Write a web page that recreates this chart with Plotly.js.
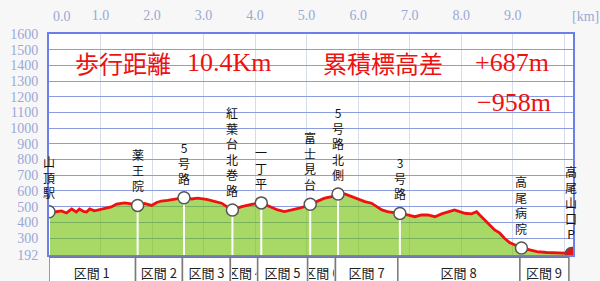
<!DOCTYPE html>
<html><head><meta charset="utf-8">
<script src="https://cdn.plot.ly/plotly-3.0.1.min.js"></script>
<style>html,body{margin:0;padding:0;background:#f7f7f7;}#chart{width:600px;height:281px;}</style>
</head><body><div id="chart"></div>
<script>
// Elevation profile (distance km, elevation m)
const profileKm = [0, 0.11, 0.24, 0.34, 0.44, 0.53, 0.59, 0.67, 0.73, 0.79, 0.88, 1.02, 1.12, 1.21, 1.31, 1.47, 1.60, 1.72,
  1.85, 1.99, 2.09, 2.18, 2.30, 2.48, 2.62, 2.77, 2.88, 3.06, 3.21, 3.35, 3.45, 3.56, 3.74, 3.93, 4.12,
  4.28, 4.44, 4.57, 4.73, 4.86, 5.00, 5.07, 5.21, 5.35, 5.49, 5.61, 5.74, 5.87, 5.99, 6.13, 6.26, 6.36, 6.46, 6.57, 6.81,
  6.96, 7.10, 7.23, 7.35, 7.49, 7.62, 7.78, 7.87, 7.97, 8.07, 8.20, 8.30, 8.36, 8.46, 8.55, 8.65, 8.75, 8.84, 8.94, 9.17,
  9.33, 9.47, 9.66, 9.91, 10.14];
const profileElev = [468, 466, 473, 460, 485, 466, 485, 470, 466, 485, 473, 485, 492, 498, 517, 524, 517, 508,
  520, 508, 527, 536, 540, 552, 557, 549, 554, 547, 536, 522, 500, 479, 500, 515, 524,
  500, 479, 468, 479, 490, 505, 515, 532, 554, 564, 581, 581, 564, 547, 532, 522, 500, 479, 468, 457,
  447, 436, 447, 447, 436, 454, 468, 479, 468, 458, 454, 468, 447, 415, 383, 352, 331, 299, 271, 237,
  224, 213, 208, 203, 202];

// Waypoints
const wpNames = ["山頂駅", "薬王院", "5号路", "紅葉台北巻路", "一丁平", "富士見台", "5号路北側", "3号路", "高尾病院", "高尾山口P"];
const wpKm = [0, 1.72, 2.62, 3.56, 4.12, 5.07, 5.61, 6.81, 9.17, 10.14];
const wpElev = [468, 508, 557, 479, 524, 515, 581, 457, 237, 202];

// Sections
const sectionNames = ["区間 1", "区間 2", "区間 3", "区間 4", "区間 5", "区間 6", "区間 7", "区間 8", "区間 9"];
const sectionEdges = [0, 1.68, 2.59, 3.52, 4.05, 5.02, 5.56, 6.77, 9.14, 10.09];

// Axes ticks
const yTickVals = [192, 300, 400, 500, 600, 700, 800, 900, 1000, 1100, 1200, 1300, 1400, 1500, 1600];
const xTickVals = [1, 2, 3, 4, 5, 6, 7, 8, 9, 10];
const xTickText = ["1.0", "2.0", "3.0", "4.0", "5.0", "6.0", "7.0", "8.0", "9.0", ""];

// Summary text
const distanceLabel = "歩行距離";
const distanceValue = "10.4Km";
const gainLabel = "累積標高差";
const gainUp = "+687m";
const gainDown = "−958m";

const X_MAX = 10.17, Y_MIN = 192, Y_MAX = 1600;
const PLOT_W = 524;

const stems = {x: [], y: []};
wpKm.forEach((k, i) => { stems.x.push(k, k, null); stems.y.push(wpElev[i], Y_MIN, null); });

const traces = [
  {x: profileKm, y: profileElev, type: 'scatter', mode: 'lines', fill: 'tozeroy',
   fillcolor: 'rgba(110,190,0,0.6)', line: {color: '#f01010', width: 2.8}, hoverinfo: 'skip'},
  {x: stems.x, y: stems.y, type: 'scatter', mode: 'lines', line: {color: '#ffffff', width: 2}, hoverinfo: 'skip'},
  {x: wpKm, y: wpElev, type: 'scatter', mode: 'markers',
   marker: {size: 12, color: wpNames.map((n, i) => i === wpNames.length - 1 ? '#e01818' : '#ffffff'),
            line: {color: '#555555', width: 1.5}}, hoverinfo: 'skip'}
];

const annotations = [];
wpNames.forEach((n, i) => {
  annotations.push({x: wpKm[i], y: wpElev[i], xref: 'x', yref: 'y', showarrow: false,
    text: Array.from(n).join('<br>'), yanchor: 'bottom', xanchor: 'center', yshift: 9,
    font: {family: 'Noto Sans CJK JP', size: 12, color: '#111'}});
});
const shapes = [];
sectionNames.forEach((n, i) => {
  const a = sectionEdges[i], b = sectionEdges[i + 1];
  shapes.push({type: 'rect', xref: 'x', yref: 'paper', x0: a, x1: b, y0: -0.01, y1: -0.3,
    line: {color: '#7a7a7a', width: 1.5}, fillcolor: '#ffffff', layer: 'above'});
  const w = (b - a) * PLOT_W / X_MAX;
  annotations.push({x: (a + b) / 2, y: -0.077, xref: 'x', yref: 'paper', showarrow: false,
    text: n, width: Math.max(4, w - 3), align: 'center', yanchor: 'middle', xanchor: 'center',
    font: {family: 'Noto Sans CJK JP', size: 13, color: '#222'}});
});
const tickFont = {family: 'Liberation Serif', size: 14, color: '#9aa8d6'};
annotations.push({xref: 'paper', yref: 'paper', x: 0.0248, y: 1.077, text: '0.0', showarrow: false,
  xanchor: 'center', yanchor: 'middle', font: tickFont});
annotations.push({xref: 'paper', yref: 'paper', x: 1.023, y: 1.077, text: '[km]', showarrow: false,
  xanchor: 'center', yanchor: 'middle', font: tickFont});

const red = '#ee1111';
const cjkRed = {family: 'Noto Sans CJK JP', size: 24, color: red};
const latRed = {family: 'Liberation Serif, Noto Sans CJK JP', size: 26, color: red};
annotations.push({xref: 'paper', yref: 'paper', x: 0.046, y: 0.873, xanchor: 'left', yanchor: 'middle', showarrow: false, text: distanceLabel, font: cjkRed});
annotations.push({xref: 'paper', yref: 'paper', x: (185 - 49) / PLOT_W, y: 0.873, xanchor: 'left', yanchor: 'middle', showarrow: false, text: distanceValue, font: latRed});
annotations.push({xref: 'paper', yref: 'paper', x: (321 - 49) / PLOT_W, y: 0.873, xanchor: 'left', yanchor: 'middle', showarrow: false, text: gainLabel, font: cjkRed});
annotations.push({xref: 'paper', yref: 'paper', x: (473 - 49) / PLOT_W, y: 0.873, xanchor: 'left', yanchor: 'middle', showarrow: false, text: gainUp, font: latRed});
annotations.push({xref: 'paper', yref: 'paper', x: (475 - 49) / PLOT_W, y: 0.688, xanchor: 'left', yanchor: 'middle', showarrow: false, text: gainDown, font: latRed});

const layout = {
  width: 600, height: 281, margin: {l: 49, r: 27, t: 34, b: 26},
  paper_bgcolor: '#f7f7f7', plot_bgcolor: '#ffffff', showlegend: false,
  xaxis: {range: [0, X_MAX], side: 'top', tickvals: xTickVals, ticktext: xTickText,
    showgrid: true, gridcolor: '#d6dcea', gridwidth: 1, zeroline: false,
    showline: true, mirror: true, linecolor: '#6a7fe8', linewidth: 2,
    ticks: '', ticklabelstandoff: 6, tickfont: tickFont, fixedrange: true},
  yaxis: {range: [Y_MIN, Y_MAX], tickvals: yTickVals, ticktext: yTickVals.map(String),
    showgrid: true, gridcolor: '#8c9ce0', gridwidth: 1, zeroline: false,
    showline: true, mirror: true, linecolor: '#6a7fe8', linewidth: 2,
    ticks: '', ticklabelstandoff: 6, tickfont: tickFont, fixedrange: true},
  shapes: shapes, annotations: annotations
};
Plotly.newPlot('chart', traces, layout, {staticPlot: true, displayModeBar: false});
</script></body></html>
